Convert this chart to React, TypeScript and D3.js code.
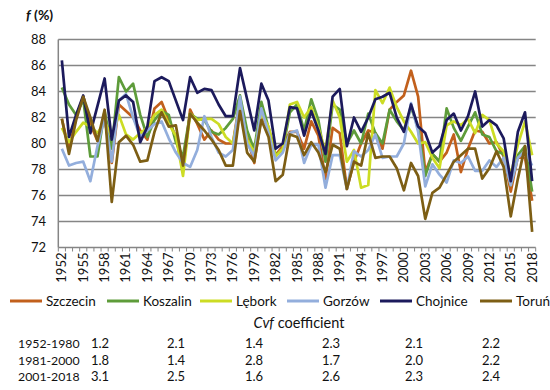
import React from "react";
import * as d3 from "d3";

const years = d3.range(1952, 2019);
const xTickLabels = ["1952","1955","1958","1961","1964","1967","1970","1973","1976","1979","1982","1985","1988","1991","1994","1997","2000","2003","2006","2009","2012","2015","2018"];
const yTicks = [72, 74, 76, 78, 80, 82, 84, 86, 88];

const szczecin = [
  81.9, 79.5, 82.0, 83.6, 81.5, 80.2, 82.0, 78.5, 83.0, 82.5,
  82.0, 81.0, 80.3, 82.7, 83.2, 81.8, 80.5, 77.9, 82.6, 81.5,
  80.3, 81.0, 80.3, 80.0, 80.0, 83.4, 80.5, 78.5, 82.1, 81.2,
  79.1, 79.8, 80.9, 80.9, 79.6, 81.7, 80.6, 77.3, 81.2, 80.8,
  76.5, 78.6, 80.0, 81.0, 80.8, 79.6, 82.6, 83.2, 83.7, 85.6,
  83.6, 77.8, 79.2, 78.6, 79.3, 80.7, 77.8, 79.6, 81.0, 80.9,
  80.0, 80.1, 79.0, 76.3, 79.0, 78.9, 75.6];
const koszalin = [
  84.3, 83.0, 82.2, 83.4, 79.0, 79.0, 82.5, 79.6, 85.1, 84.0,
  84.6, 82.2, 80.5, 81.8, 82.5, 82.2, 80.1, 79.0, 82.3, 81.9,
  81.8, 80.9, 80.7, 81.2, 81.9, 83.7, 81.0, 79.5, 83.2, 81.2,
  79.1, 79.5, 82.4, 83.0, 81.0, 83.4, 81.8, 78.6, 83.0, 82.6,
  80.0, 81.0, 80.0, 82.3, 80.8, 80.0, 82.6, 81.7, 81.0, 82.8,
  81.2, 77.5, 79.2, 78.6, 82.7, 81.2, 80.2, 81.3, 82.4, 80.7,
  80.5, 79.4, 79.2, 76.8, 79.1, 79.8, 76.3];
const lebork = [
  81.2, 80.1, 80.9, 81.6, 81.3, 80.8, 81.7, 80.5, 82.2, 80.7,
  80.3, 80.8, 81.2, 82.2, 82.6, 81.5, 80.6, 77.5, 82.3, 81.8,
  81.9, 81.9, 81.5, 80.5, 80.0, 83.0, 80.3, 79.3, 82.3, 81.3,
  79.0, 79.6, 83.0, 83.2, 82.0, 82.8, 81.2, 79.4, 83.3, 82.0,
  78.6, 79.5, 76.6, 76.8, 84.1, 83.1, 84.3, 82.8, 81.7, 80.9,
  80.0, 80.1, 78.9, 78.1, 81.4, 81.7, 81.4, 81.9, 80.8, 82.2,
  81.8, 80.0, 79.4, 77.6, 79.9, 81.7, 79.1];
const gorzow = [
  79.6, 78.3, 78.5, 78.6, 77.1, 79.8, 82.0, 78.6, 83.3, 83.8,
  82.0, 80.5, 81.0, 81.5, 81.7, 80.4, 79.3, 78.5, 78.2, 79.5,
  82.1, 80.5, 79.3, 79.0, 79.5, 83.6, 80.0, 79.0, 82.7, 80.8,
  78.7, 79.3, 80.8, 81.0, 78.5, 79.9, 79.9, 76.6, 79.1, 79.1,
  76.5, 79.4, 79.0, 79.5, 80.7, 78.9, 79.0, 79.0, 80.0, 83.1,
  80.9, 76.7, 78.4, 77.6, 77.0, 78.7, 78.5, 79.0, 77.9, 77.9,
  78.7, 78.2, 78.9, 76.8, 78.9, 79.4, 78.3];
const chojnice = [
  86.4, 80.5, 82.2, 83.7, 80.8, 82.9, 85.0, 80.3, 83.3, 83.7,
  83.2, 80.1, 81.3, 84.8, 85.1, 84.8, 83.3, 81.8, 85.1, 83.9,
  84.2, 84.1, 83.0, 82.1, 82.1, 85.8, 83.4, 81.0, 84.6, 83.3,
  79.6, 80.0, 82.8, 82.7, 80.6, 82.5, 81.0, 79.2, 83.6, 84.2,
  79.8, 82.0, 80.9, 82.0, 83.4, 83.6, 83.9, 82.0, 80.9, 83.0,
  81.3, 80.8, 79.3, 79.8, 81.8, 82.3, 81.0, 82.1, 84.0, 81.3,
  81.8, 81.4, 80.4, 77.1, 80.9, 82.4, 77.1];
const torun = [
  81.9, 79.2, 81.8, 83.6, 82.0, 80.2, 82.6, 75.5, 80.1, 80.6,
  79.9, 78.6, 78.7, 80.9, 82.4, 81.3, 81.4, 78.3, 82.3, 81.6,
  81.0, 80.3, 79.5, 78.3, 78.3, 82.5, 79.3, 78.6, 81.8, 80.5,
  77.1, 77.6, 80.7, 80.5, 79.1, 80.1, 79.3, 77.8, 79.9, 79.6,
  76.5, 78.6, 78.3, 80.8, 78.9, 79.0, 79.0, 78.1, 76.4, 78.5,
  77.5, 74.2, 76.2, 76.6, 77.6, 78.6, 79.1, 79.6, 79.6, 77.3,
  78.1, 79.4, 78.2, 74.4, 77.3, 79.8, 73.2];

const stationNames = ["Szczecin", "Koszalin", "Lębork", "Gorzów", "Chojnice", "Toruń"];
const stationColors = ["#C2601C", "#5E9C3A", "#CCDC24", "#93AEDC", "#1C1A5C", "#7D5E14"];
const stationValues = [szczecin, koszalin, lebork, gorzow, chojnice, torun];

const periods = ["1952-1980", "1981-2000", "2001-2018"];
const cvfSzczecin = ["1.2", "1.8", "3.1"];
const cvfKoszalin = ["2.1", "1.4", "2.5"];
const cvfLebork = ["1.4", "2.8", "1.6"];
const cvfGorzow = ["2.3", "1.7", "2.6"];
const cvfChojnice = ["2.1", "2.0", "2.3"];
const cvfTorun = ["2.2", "2.2", "2.4"];
const cvfColumns = [cvfSzczecin, cvfKoszalin, cvfLebork, cvfGorzow, cvfChojnice, cvfTorun];

const FONT = "Lato, 'Open Sans', sans-serif";
const TXT = "#111";

export default function App() {
  const W = 550, H = 390;
  const left = 58.3, right = 535.7, top = 39.5, bottom = 247.5;
  const xBand = d3.scaleBand<number>().domain(years).range([left, right]).paddingInner(0).paddingOuter(0);
  const xc = (yr: number) => (xBand(yr) as number) + xBand.bandwidth() / 2;
  const y = d3.scaleLinear().domain([72, 88]).range([bottom, top]);
  const line = d3.line<number>().x((_, i) => xc(years[i])).y((d) => y(d));

  const legendX = [10, 107, 200, 287, 380, 480];
  const colX = [91, 167, 245, 322, 405, 482];
  const rowY = [348, 364.5, 381];

  return (
    <svg width={W} height={H} style={{ position: "absolute", left: 0, top: 0, background: "#fff" }} fontFamily={FONT}>
      <rect x={0} y={0} width={W} height={H} fill="#fff" />
      {yTicks.filter((t) => t > 72).map((t) => (
        <line key={t} x1={left} x2={right} y1={y(t)} y2={y(t)} stroke="#858585" strokeWidth={1.6} />
      ))}
      <line x1={left} x2={left} y1={top} y2={bottom} stroke="#858585" strokeWidth={1.5} />
      <line x1={left} x2={right} y1={bottom} y2={bottom} stroke="#858585" strokeWidth={1.5} />
      {years.concat([2019]).map((yr, i) => {
        const xx = left + i * xBand.step();
        return <line key={"t" + yr} x1={xx} x2={xx} y1={bottom} y2={bottom + 4} stroke="#858585" strokeWidth={1} />;
      })}
      {yTicks.map((t) => (
        <text key={"y" + t} x={46} y={y(t)} dy="0.36em" textAnchor="end" fontSize={13} fill={TXT}>{t}</text>
      ))}
      {xTickLabels.map((lab) => {
        const xx = xc(+lab);
        return (
          <text key={"x" + lab} transform={`translate(${xx + 4.5},${bottom + 5}) rotate(-90)`} textAnchor="end" fontSize={13} fill={TXT}>{lab}</text>
        );
      })}
      <text x={26} y={20} fontSize={14} fill={TXT} fontWeight="bold">
        <tspan fontStyle="italic">f</tspan>
        <tspan> (%)</tspan>
      </text>
      {stationValues.map((vals, k) => (
        <path key={stationNames[k]} d={line(vals) || ""} fill="none" stroke={stationColors[k]} strokeWidth={2.7} strokeLinejoin="round" />
      ))}
      {stationNames.map((n, k) => (
        <g key={"lg" + n}>
          <line x1={legendX[k]} x2={legendX[k] + 32} y1={301} y2={301} stroke={stationColors[k]} strokeWidth={3} />
          <text x={legendX[k] + 36} y={305.5} fontSize={13.5} fill={TXT}>{n}</text>
        </g>
      ))}
      <text x={299} y={328} textAnchor="middle" fontSize={14.5} fill={TXT}>
        <tspan fontStyle="italic">Cvf</tspan>
        <tspan> coefficient</tspan>
      </text>
      {periods.map((p, r) => (
        <g key={p}>
          <text x={18} y={rowY[r]} fontSize={12.3} fill={TXT}>{p}</text>
          {cvfColumns.map((col, c) => (
            <text key={c} x={colX[c]} y={rowY[r]} fontSize={13} fill={TXT}>{col[r]}</text>
          ))}
        </g>
      ))}
    </svg>
  );
}
